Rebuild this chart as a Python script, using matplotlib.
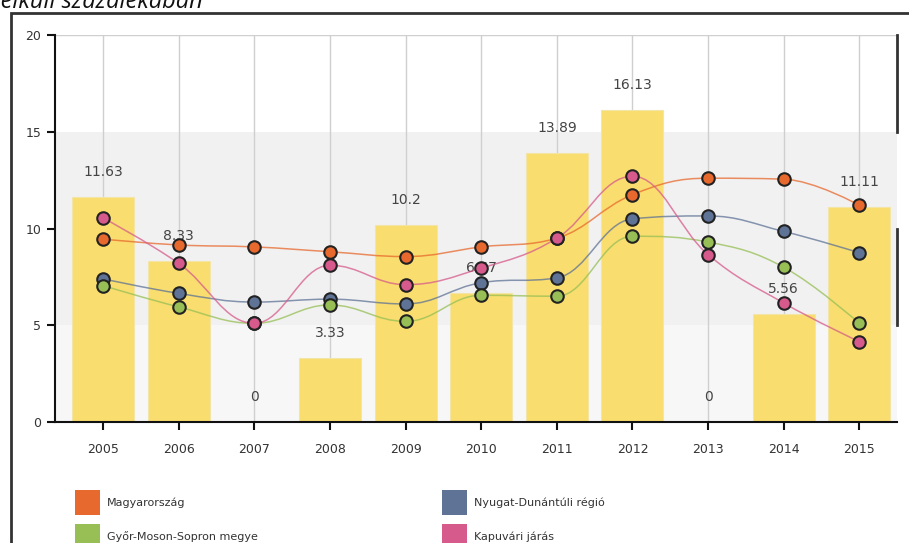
import matplotlib

matplotlib.use("Agg")
import matplotlib.pyplot as plt
import numpy as np
from matplotlib.patches import PathPatch, Rectangle
from matplotlib.path import Path

YEARS = [2005, 2006, 2007, 2008, 2009, 2010, 2011, 2012, 2013, 2014, 2015]
BAR_VALUES = [11.63, 8.33, 0, 3.33, 10.2, 6.67, 13.89, 16.13, 0, 5.56, 11.11]

MAGYARORSZAG = [9.45, 9.15, 9.05, 8.8, 8.55, 9.05, 9.5, 11.75, 12.6, 12.55, 11.2]
NYUGAT_DUNANTUL = [7.4, 6.65, 6.2, 6.35, 6.1, 7.2, 7.45, 10.5, 10.65, 9.85, 8.75]
GYOR_MOSON_SOPRON = [7.05, 5.95, 5.1, 6.05, 5.2, 6.55, 6.5, 9.6, 9.3, 8.0, 5.1]
KAPUVAR = [10.55, 8.2, 5.1, 8.1, 7.1, 7.95, 9.5, 12.7, 8.65, 6.15, 4.15]

SERIES = [
    ("Magyarország", MAGYARORSZAG, "#e8692e"),
    ("Nyugat-Dunántúli régió", NYUGAT_DUNANTUL, "#5f7396"),
    ("Győr-Moson-Sopron megye", GYOR_MOSON_SOPRON, "#97bf55"),
    ("Kapuvári járás", KAPUVAR, "#d65a8b"),
]
BAR_COLOR = "#f9dd6e"


def spline_path(xs, ys, smoothing=1.5):
    """Highcharts-like spline through the points, as a cubic Bezier path."""
    n = len(xs)
    left = [(xs[i], ys[i]) for i in range(n)]
    right = [(xs[i], ys[i]) for i in range(n)]
    denom = smoothing + 1
    for i in range(1, n - 1):
        px, py = xs[i], ys[i]
        lx, ly = xs[i - 1], ys[i - 1]
        nx, ny = xs[i + 1], ys[i + 1]
        lcx = (smoothing * px + lx) / denom
        lcy = (smoothing * py + ly) / denom
        rcx = (smoothing * px + nx) / denom
        rcy = (smoothing * py + ny) / denom
        corr = (rcy - lcy) * (rcx - px) / (rcx - lcx) + py - rcy
        lcy += corr
        rcy += corr
        if lcy > ly and lcy > py:
            lcy = max(ly, py)
            rcy = 2 * py - lcy
        elif lcy < ly and lcy < py:
            lcy = min(ly, py)
            rcy = 2 * py - lcy
        if rcy > ny and rcy > py:
            rcy = max(ny, py)
            lcy = 2 * py - rcy
        elif rcy < ny and rcy < py:
            rcy = min(ny, py)
            lcy = 2 * py - rcy
        left[i] = (lcx, lcy)
        right[i] = (rcx, rcy)
    verts = [(xs[0], ys[0])]
    codes = [Path.MOVETO]
    for i in range(1, n):
        verts += [right[i - 1], left[i], (xs[i], ys[i])]
        codes += [Path.CURVE4] * 3
    return Path(verts, codes)


fig = plt.figure(figsize=(9.09, 5.43), dpi=100)
ax = fig.add_axes([0.0605, 0.2228, 0.9265, 0.7127])

x = np.array(YEARS, dtype=float)
ax.set_xlim(2005 - 0.635, 2015.5)
ax.set_ylim(0, 20)

# background bands
ax.axhspan(0, 5, color="#f7f7f7", zorder=0, lw=0)
ax.axhspan(5, 15, color="#f1f1f1", zorder=0, lw=0)
for yr in YEARS:
    ax.axvline(yr, color="#cfcfcf", lw=1, zorder=0.5)
ax.axhline(20, color="#cfcfcf", lw=1, zorder=0.5)

ax.bar(x, BAR_VALUES, width=0.82, color=BAR_COLOR, edgecolor="#f3e5a8", lw=0.8, zorder=1)
for xi, v in zip(x, BAR_VALUES):
    ax.annotate(f"{v:g}", (xi, v), xytext=(0, 18), textcoords="offset points",
                ha="center", va="center", fontsize=10, color="#444444", zorder=2)

for _, vals, col in SERIES:
    ax.add_patch(PathPatch(spline_path(list(x), vals), fill=False, edgecolor=col,
                           lw=1.1, alpha=0.75, zorder=3))
for _, vals, col in SERIES:
    ax.plot(x, vals, ls="none", marker="o", ms=9, mfc=col, mec="#222222", mew=1.5, zorder=4)

# right-edge axis fragments
ax.plot([1, 1], [0.75, 1.0], transform=ax.transAxes, color="#333333", lw=2, clip_on=False)
ax.plot([1, 1], [0.25, 0.5], transform=ax.transAxes, color="#333333", lw=2, clip_on=False)

ax.set_xticks(YEARS)
ax.set_xticklabels([str(y) for y in YEARS])
ax.set_yticks([0, 5, 10, 15, 20])
for s in ("top", "right"):
    ax.spines[s].set_visible(False)
for s in ("left", "bottom"):
    ax.spines[s].set_color("#111111")
    ax.spines[s].set_linewidth(1.5)
ax.tick_params(axis="both", length=6, width=1.5, color="#111111", labelsize=9,
               labelcolor="#333333")
ax.tick_params(axis="x", pad=9)
ax.tick_params(axis="y", pad=4)

# legend
legend_items = [
    (75, 490, SERIES[0]), (442, 490, SERIES[1]),
    (75, 524, SERIES[2]), (442, 524, SERIES[3]),
]
W, H = 909, 543
for px, py, (label, _, col) in legend_items:
    fig.add_artist(Rectangle((px / W, 1 - (py + 25) / H), 25 / W, 25 / H,
                             transform=fig.transFigure, color=col, lw=0))
    fig.text((px + 32) / W, 1 - (py + 13) / H, label, fontsize=8, color="#333333",
             va="center", ha="left")

# outer frame
fig.add_artist(Rectangle((11 / W, -0.05), 1.0, 1 - 13 / H + 0.05, transform=fig.transFigure,
                         fill=False, edgecolor="#333333", lw=2))

# clipped title above the chart
fig.text(-13 / W, 1 - 8 / H, "nélküli százalékában", fontsize=17, style="italic",
         family="Open Sans", va="baseline", ha="left", color="#111111")

fig.savefig("out.png", dpi=100)
